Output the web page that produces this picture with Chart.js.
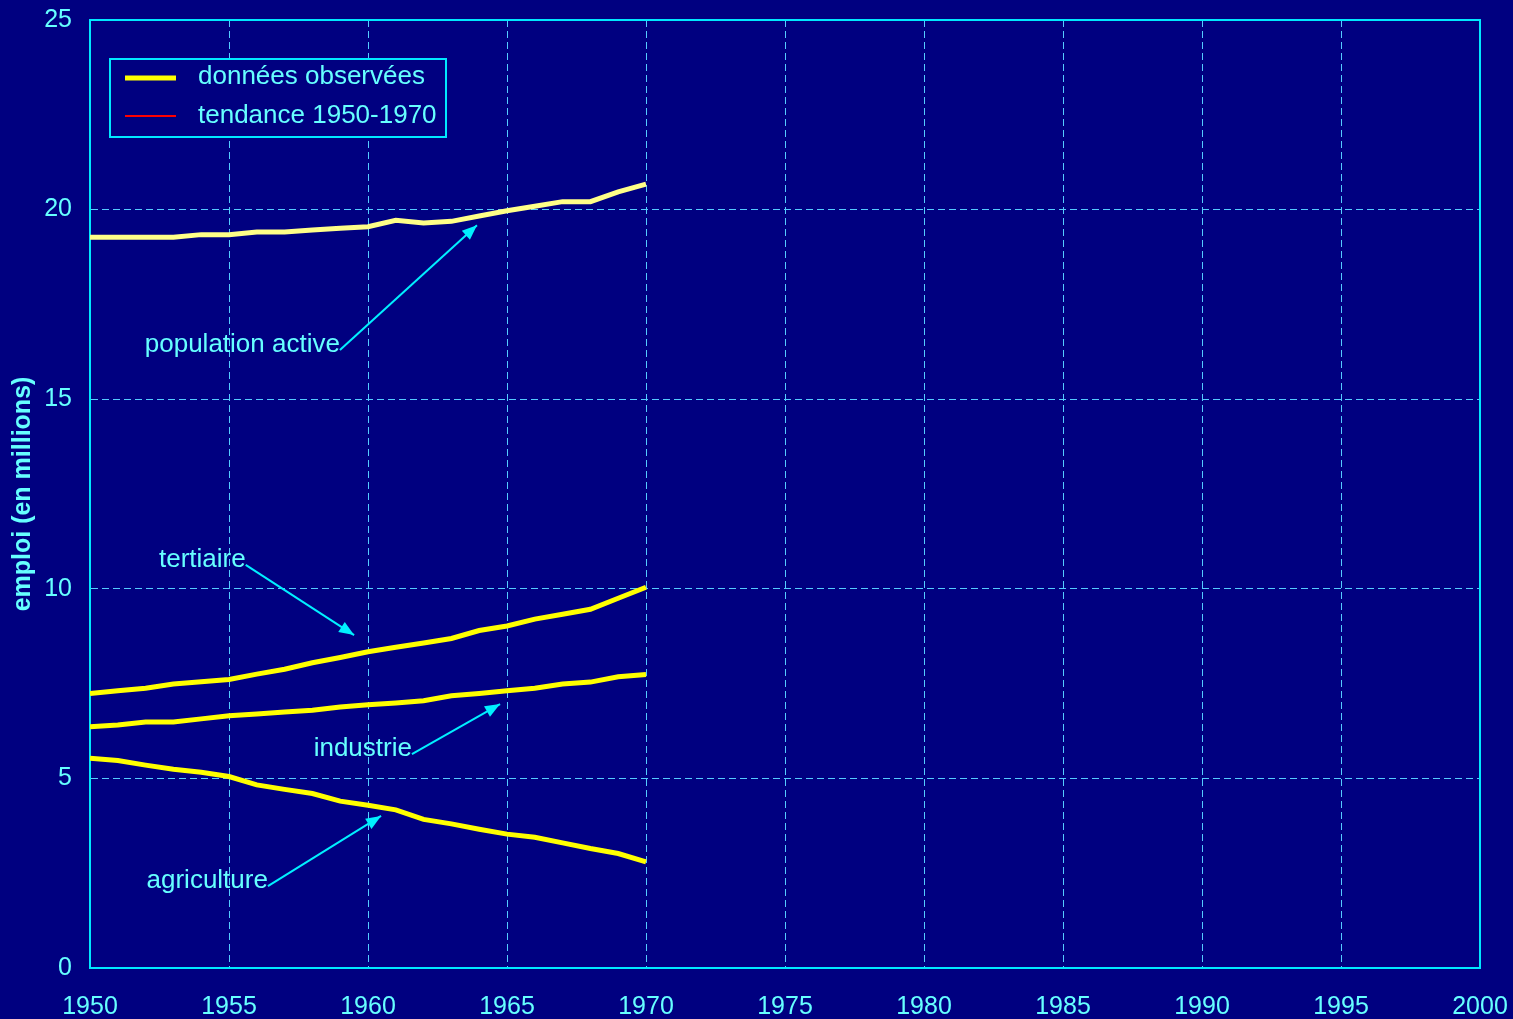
<!DOCTYPE html>
<html>
<head>
<meta charset="utf-8">
<script src="https://cdn.jsdelivr.net/npm/chart.js@4.4.1/dist/chart.umd.min.js"></script>
<style>
    html, body { margin: 0; padding: 0; background: #000080; }
    #wrap { width: 1513px; height: 1019px; }
</style>
</head>
<body>
<div id="wrap"><canvas id="chart"></canvas></div>
<script>
// Data (millions of jobs, 1950-1970)
const years = [1950, 1951, 1952, 1953, 1954, 1955, 1956, 1957, 1958, 1959, 1960,
               1961, 1962, 1963, 1964, 1965, 1966, 1967, 1968, 1969, 1970];
const populationActive = [19.27, 19.27, 19.27, 19.27, 19.34, 19.34, 19.41, 19.41, 19.46, 19.51, 19.55,
                          19.72, 19.65, 19.69, 19.83, 19.97, 20.09, 20.21, 20.21, 20.47, 20.67];
const tertiaire = [7.24, 7.31, 7.38, 7.49, 7.55, 7.61, 7.75, 7.88, 8.05, 8.19, 8.34,
                   8.46, 8.57, 8.69, 8.90, 9.02, 9.20, 9.33, 9.46, 9.75, 10.04];
const industrie = [6.36, 6.41, 6.49, 6.49, 6.57, 6.65, 6.70, 6.75, 6.80, 6.88, 6.94,
                   6.99, 7.05, 7.18, 7.24, 7.31, 7.38, 7.49, 7.54, 7.68, 7.74];
const agriculture = [5.53, 5.47, 5.35, 5.24, 5.16, 5.05, 4.83, 4.71, 4.60, 4.40, 4.29,
                     4.17, 3.92, 3.80, 3.66, 3.53, 3.45, 3.30, 3.15, 3.02, 2.80];

const xTicks = [1950, 1955, 1960, 1965, 1970, 1975, 1980, 1985, 1990, 1995, 2000];
const yTicks = [0, 5, 10, 15, 20, 25];

const legendLabels = ['données observées', 'tendance 1950-1970'];

// annotation labels: text, text anchor (year, value), arrow tip (year, value)
const labelTexts = ['population active', 'tertiaire', 'industrie', 'agriculture'];
const labelAnchors = [[1958.99, 16.3], [1955.6, 10.63], [1961.58, 5.64], [1956.4, 2.16]];
const arrowTips = [[1963.92, 19.59], [1959.5, 8.78], [1964.75, 6.96], [1960.47, 4.01]];

const textColor = '#66ffff';
const axisColor = '#00e8ff';
const gridColor = '#55ccff';
const fontFamily = '"Liberation Sans", Arial, sans-serif';

function toPoints(values) {
    return years.map((y, i) => ({ x: y, y: values[i] }));
}

// Labels with arrows pointing at the curves
const annotationPlugin = {
    id: 'annotations',
    afterDatasetsDraw(chart) {
        const ctx = chart.ctx;
        const xs = chart.scales.x;
        const ys = chart.scales.y;
        ctx.save();
        ctx.font = '26px ' + fontFamily;
        ctx.fillStyle = textColor;
        ctx.strokeStyle = '#00f0ff';
        ctx.lineWidth = 2;
        labelTexts.forEach((txt, i) => {
            const ax = xs.getPixelForValue(labelAnchors[i][0]);
            const ay = ys.getPixelForValue(labelAnchors[i][1]);
            const tx = xs.getPixelForValue(arrowTips[i][0]);
            const ty = ys.getPixelForValue(arrowTips[i][1]);
            ctx.textAlign = 'right';
            ctx.textBaseline = 'middle';
            ctx.fillText(txt, ax, ay - 5);
            // arrow shaft
            ctx.beginPath();
            ctx.moveTo(ax, ay);
            ctx.lineTo(tx, ty);
            ctx.stroke();
            // arrow head
            const ang = Math.atan2(ty - ay, tx - ax);
            const len = 15, wid = 6;
            ctx.beginPath();
            ctx.moveTo(tx, ty);
            ctx.lineTo(tx - len * Math.cos(ang) + wid * Math.sin(ang), ty - len * Math.sin(ang) - wid * Math.cos(ang));
            ctx.lineTo(tx - len * Math.cos(ang) - wid * Math.sin(ang), ty - len * Math.sin(ang) + wid * Math.cos(ang));
            ctx.closePath();
            ctx.fillStyle = '#00f0ff';
            ctx.fill();
            ctx.fillStyle = textColor;
        });
        ctx.restore();
    }
};

// Legend box inside the plot, top left
const legendBoxPlugin = {
    id: 'legendBox',
    afterDraw(chart) {
        const ctx = chart.ctx;
        const area = chart.chartArea;
        const left = area.left + 20, top = area.top + 39;
        ctx.save();
        ctx.fillStyle = '#000080';
        ctx.fillRect(left, top, 336, 78);
        ctx.strokeStyle = axisColor;
        ctx.lineWidth = 2;
        ctx.strokeRect(left, top, 336, 78);
        // sample lines
        ctx.strokeStyle = '#ffff00';
        ctx.lineWidth = 5;
        ctx.beginPath();
        ctx.moveTo(left + 15, top + 19);
        ctx.lineTo(left + 66, top + 19);
        ctx.stroke();
        ctx.strokeStyle = '#ff0000';
        ctx.lineWidth = 2;
        ctx.beginPath();
        ctx.moveTo(left + 15, top + 57);
        ctx.lineTo(left + 66, top + 57);
        ctx.stroke();
        ctx.font = '26px ' + fontFamily;
        ctx.fillStyle = textColor;
        ctx.textAlign = 'left';
        ctx.textBaseline = 'middle';
        ctx.fillText(legendLabels[0], left + 88, top + 18);
        ctx.fillText(legendLabels[1], left + 88, top + 57);
        ctx.restore();
    }
};

// Top and right border of the plot area
const frameBorderPlugin = {
    id: 'frameBorder',
    afterDatasetsDraw(chart) {
        const ctx = chart.ctx;
        const a = chart.chartArea;
        ctx.save();
        ctx.strokeStyle = axisColor;
        ctx.lineWidth = 2;
        ctx.beginPath();
        ctx.moveTo(a.left, a.top);
        ctx.lineTo(a.right, a.top);
        ctx.lineTo(a.right, a.bottom);
        ctx.stroke();
        ctx.restore();
    }
};

const ctx = document.getElementById('chart').getContext('2d');
const lineStyle = {
    borderWidth: 5,
    pointRadius: 0,
    tension: 0,
    fill: false
};

new Chart(ctx, {
    type: 'line',
    data: {
        datasets: [
            Object.assign({ label: 'population active', data: toPoints(populationActive), borderColor: '#ffff88' }, lineStyle),
            Object.assign({ label: 'tertiaire', data: toPoints(tertiaire), borderColor: '#ffff00' }, lineStyle),
            Object.assign({ label: 'industrie', data: toPoints(industrie), borderColor: '#ffff00' }, lineStyle),
            Object.assign({ label: 'agriculture', data: toPoints(agriculture), borderColor: '#ffff00' }, lineStyle)
        ]
    },
    options: {
        responsive: true,
        maintainAspectRatio: false,
        animation: false,
        layout: {
            padding: { top: 20, right: 33, left: 0, bottom: 0 }
        },
        scales: {
            x: {
                type: 'linear',
                min: 1950,
                max: 2000,
                afterFit: scale => {
                    scale.height = 51;
                    scale.paddingLeft = 0;
                    scale.paddingRight = 0;
                },
                afterBuildTicks: scale => { scale.ticks = xTicks.map(v => ({ value: v })); },
                ticks: {
                    color: textColor,
                    font: { family: fontFamily, size: 25 },
                    padding: 24,
                    maxRotation: 0,
                    callback: v => String(v)
                },
                grid: {
                    color: ctx => (ctx.tick && ctx.tick.value === 1950) ? 'rgba(0,0,0,0)' : gridColor,
                    lineWidth: 1,
                    drawTicks: false
                },
                border: { color: axisColor, width: 2, dash: [7, 4] }
            },
            y: {
                min: 0,
                max: 25,
                afterFit: scale => {
                    scale.width = 90;
                    scale.paddingTop = 0;
                    scale.paddingBottom = 0;
                },
                afterBuildTicks: scale => { scale.ticks = yTicks.map(v => ({ value: v })); },
                ticks: {
                    color: textColor,
                    font: { family: fontFamily, size: 25 },
                    padding: 18
                },
                grid: {
                    color: ctx => (ctx.tick && ctx.tick.value === 0) ? 'rgba(0,0,0,0)' : gridColor,
                    lineWidth: 1,
                    drawTicks: false
                },
                border: { color: axisColor, width: 2, dash: [7, 4] },
                title: {
                    display: true,
                    text: 'emploi (en millions)',
                    color: textColor,
                    font: { family: fontFamily, size: 25, weight: 'bold' },
                    padding: { top: 8, bottom: 0 }
                }
            }
        },
        plugins: {
            legend: { display: false },
            tooltip: { enabled: false }
        }
    },
    plugins: [frameBorderPlugin, annotationPlugin, legendBoxPlugin]
});
</script>
</body>
</html>
